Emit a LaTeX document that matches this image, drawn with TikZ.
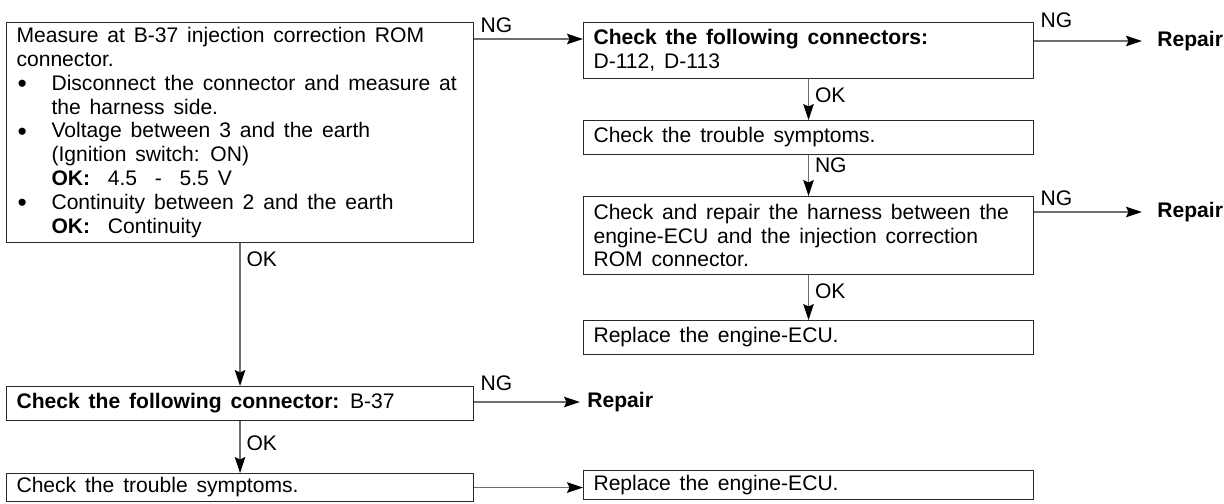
\documentclass[tikz,border=0pt]{standalone}
\usepackage{fontspec}
\setmainfont{Liberation Sans}
\usetikzlibrary{arrows.meta, positioning}
\definecolor{linegray}{RGB}{110,110,110}
\definecolor{boxline}{RGB}{40,40,40}
\newcommand{\mainfnt}{\fontsize{12}{13.6}\selectfont}
\newcommand{\itm}{\hspace*{0.02cm}\makebox[0.68cm][l]{\raisebox{-0.2ex}{\fontsize{15}{13.6}\selectfont\textbullet}}}
\newcommand{\ind}{\hspace*{0.7cm}}

\begin{document}
\begin{tikzpicture}[
  every node/.append style={font=\mainfnt,
                            execute at begin node={\spaceskip=0.42em plus 0.1em minus 0.05em\relax}},
  stepbox/.style={rectangle, draw=boxline, line width=0.6pt, anchor=north west,
                  align=left, inner xsep=0.2cm, inner ysep=0pt},
  arrow/.style={draw=linegray, line width=0.7pt,
                -{Stealth[length=0.32cm, width=0.21cm, inset=0.05cm, black]}},
  repair/.style={font=\mainfnt\bfseries, anchor=west, inner xsep=0.14cm}
]
\useasboundingbox (0,0) rectangle (24.48,-10.08);

% Left column
\node[stepbox, text width=8.94cm, minimum height=4.40cm] (A) at (0.12,-0.44)
      {Measure at B-37 injection correction ROM\\
       connector.\\
       \itm Disconnect the connector and measure at\\
       \ind the harness side.\\
       \itm Voltage between 3 and the earth\\
       \ind (Ignition switch: ON)\\
       \ind\textbf{OK:} \ 4.5 \ - \ 5.5 V\\
       \itm Continuity between 2 and the earth\\
       \ind\textbf{OK:} \ Continuity};

\node[stepbox, text width=8.94cm, minimum height=0.68cm] (F) at (0.12,-7.72)
      {\textbf{Check the following connector:} B-37};

\node[stepbox, text width=8.94cm, minimum height=0.56cm] (G) at (0.12,-9.46)
      {Check the trouble symptoms.};

% Right column
\node[stepbox, text width=8.6cm, minimum height=1.12cm] (B) at (11.66,-0.44)
      {\textbf{Check the following connectors:}\\ D-112, D-113};

\node[stepbox, text width=8.6cm, minimum height=0.68cm] (C) at (11.66,-2.40)
      {Check the trouble symptoms.};

\node[stepbox, text width=8.6cm, minimum height=1.56cm] (D) at (11.66,-3.92)
      {Check and repair the harness between the\\
       engine-ECU and the injection correction\\
       ROM connector.};

\node[stepbox, text width=8.6cm, minimum height=0.68cm] (E) at (11.66,-6.40)
      {Replace the engine-ECU.};

\node[stepbox, text width=8.6cm, minimum height=0.58cm] (H) at (11.66,-9.40)
      {Replace the engine-ECU.};

% Repair ends
\node[repair, inner xsep=0.3cm] (R1) at (22.84,-0.82) {Repair};
\node[repair, inner xsep=0.3cm] (R2) at (22.84,-4.24) {Repair};
\node[repair] (R3) at (11.60,-8.04) {Repair};

% Vertical arrows
\foreach \a/\b/\t/\p in {B/C/OK/0.40, C/D/NG/0.26, D/E/OK/0.37, A/F/OK/0.11, F/G/OK/0.42}
  \draw[arrow] (\a.south) -- node[pos=\p, right] {\t} (\b.north);

% Horizontal arrows
\draw[arrow] ([yshift=-0.34cm]A.north east) -- node[pos=0, above right] {NG}
             ([yshift=-0.34cm]B.north west);
\draw[arrow] (B.east |- R1.west) -- node[pos=0, above right, yshift=0.14cm] {NG} (R1.west);
\draw[arrow] (D.east |- R2.west) -- node[pos=0, above right] {NG} (R2.west);
\draw[arrow] (F.east |- R3.west) -- node[pos=0, above right, yshift=0.1cm] {NG} (R3.west);
\draw[arrow] (G.east) -- (G.east -| H.west);

\end{tikzpicture}
\end{document}
